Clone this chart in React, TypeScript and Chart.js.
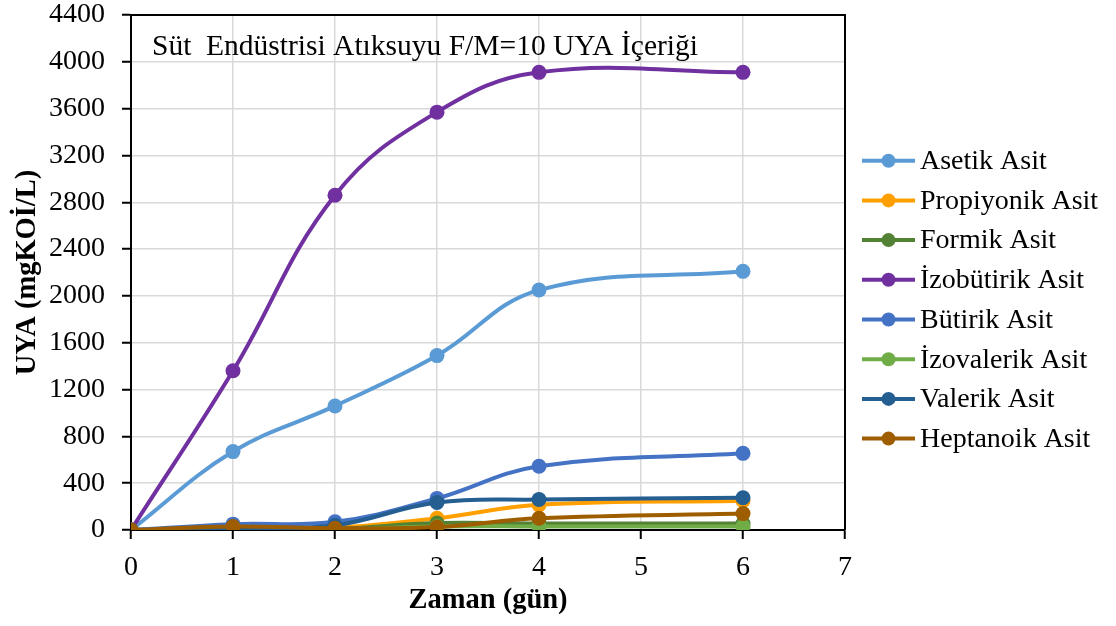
import { useEffect, useRef } from "react";
import { Chart, registerables } from "chart.js";

Chart.register(...registerables);

// Sampling days and measured volatile fatty acid concentrations (mgKOİ/L)
const days = [0, 1, 2, 3, 4, 6];
const asetik = [0, 670, 1060, 1490, 2050, 2210];
const propiyonik = [0, 20, 20, 100, 215, 250];
const formik = [0, 10, 10, 60, 55, 55];
const izobutirik = [0, 1360, 2860, 3570, 3910, 3910];
const butirik = [0, 50, 70, 270, 545, 655];
const izovalerik = [0, 0, 0, 30, 30, 30];
const valerik = [0, 0, 40, 235, 260, 275];
const heptanoik = [0, 30, 15, 25, 100, 140];

const seriesNames = [
  "Asetik Asit",
  "Propiyonik Asit",
  "Formik Asit",
  "İzobütirik Asit",
  "Bütirik Asit",
  "İzovalerik Asit",
  "Valerik Asit",
  "Heptanoik Asit",
];
const seriesValues = [asetik, propiyonik, formik, izobutirik, butirik, izovalerik, valerik, heptanoik];
const seriesColors = [
  "#5B9BD5",
  "#FFA000",
  "#548235",
  "#7030A0",
  "#4472C4",
  "#70AD47",
  "#255E91",
  "#9E5E00",
];

const chartTitle = "Süt  Endüstrisi Atıksuyu F/M=10 UYA İçeriği";
const xAxisTitle = "Zaman (gün)";
const yAxisTitle = "UYA (mgKOİ/L)";
const xMin = 0;
const xMax = 7;
const yMin = 0;
const yMax = 4400;
const yStep = 400;

const SERIF = "'Liberation Serif', 'Times New Roman', serif";

// Frame on the top and right sides of the plot area
const framePlugin = {
  id: "plotFrame",
  beforeDatasetsDraw(chart: any) {
    const { ctx, chartArea } = chart;
    ctx.save();
    ctx.strokeStyle = "#000";
    ctx.lineWidth = 2;
    ctx.beginPath();
    ctx.moveTo(chartArea.left, chartArea.top);
    ctx.lineTo(chartArea.right, chartArea.top);
    ctx.lineTo(chartArea.right, chartArea.bottom);
    ctx.stroke();
    ctx.restore();
  },
};

// Title inside the plot area plus a line-and-marker legend on the right
const annotationPlugin = {
  id: "titleAndLegend",
  afterDraw(chart: any) {
    const { ctx, chartArea } = chart;
    ctx.save();
    ctx.fillStyle = "#000";
    ctx.font = `29.5px ${SERIF}`;
    ctx.textAlign = "left";
    ctx.textBaseline = "alphabetic";
    ctx.fillText(chartTitle, chartArea.left + 21, 55);

    const lineX0 = chartArea.right + 17;
    const lineX1 = chartArea.right + 70;
    const textX = chartArea.right + 75;
    const rowTop = 160.7;
    const rowStep = 39.7;
    ctx.font = `28px ${SERIF}`;
    ctx.textBaseline = "middle";
    seriesNames.forEach((name, i) => {
      const y = rowTop + i * rowStep;
      ctx.strokeStyle = seriesColors[i];
      ctx.lineWidth = 4;
      ctx.beginPath();
      ctx.moveTo(lineX0, y);
      ctx.lineTo(lineX1, y);
      ctx.stroke();
      ctx.fillStyle = seriesColors[i];
      ctx.beginPath();
      ctx.arc((lineX0 + lineX1) / 2, y, 7, 0, Math.PI * 2);
      ctx.fill();
      ctx.fillStyle = "#000";
      ctx.fillText(name, textX, y + 1);
    });
    ctx.restore();
  },
};

export default function App() {
  const canvasRef = useRef<HTMLCanvasElement | null>(null);

  useEffect(() => {
    const canvas = canvasRef.current;
    if (!canvas) return;

    const datasets = seriesNames.map((name, i) => ({
      label: name,
      data: days.map((d, j) => ({ x: d, y: seriesValues[i][j] })),
      borderColor: seriesColors[i],
      backgroundColor: seriesColors[i],
      pointBackgroundColor: seriesColors[i],
      pointBorderColor: seriesColors[i],
      pointRadius: 7.5,
      pointBorderWidth: 0,
      borderWidth: 4,
      tension: 0.4,
      fill: false,
      order: seriesNames.length - 1 - i,
    }));

    const chart = new Chart(canvas, {
      type: "line",
      data: { datasets },
      plugins: [framePlugin, annotationPlugin],
      options: {
        responsive: false,
        animation: false,
        devicePixelRatio: 1,
        layout: { padding: { top: 15, right: 271, left: 0, bottom: 0 } },
        plugins: {
          legend: { display: false },
          tooltip: { enabled: false },
          title: { display: false },
        },
        scales: {
          x: {
            type: "linear",
            min: xMin,
            max: xMax,
            afterFit(scale: any) {
              scale.height = 96;
              scale.paddingLeft = 0;
              scale.paddingRight = 0;
            },
            ticks: {
              stepSize: 1,
              color: "#000",
              padding: 12,
              font: { family: SERIF, size: 28 },
            },
            grid: {
              color: "#D9D9D9",
              lineWidth: 1.5,
              tickColor: "#000",
              tickLength: 9,
              tickWidth: 2,
            },
            border: { display: true, color: "#000", width: 2 },
            title: {
              display: true,
              text: xAxisTitle,
              color: "#000",
              padding: { top: 0, bottom: 8 },
              font: { family: SERIF, size: 28.5, weight: "bold", lineHeight: 1.2 },
            },
          },
          y: {
            min: yMin,
            max: yMax,
            afterFit(scale: any) {
              scale.width = 131;
              scale.paddingTop = 0;
              scale.paddingBottom = 0;
            },
            ticks: {
              stepSize: yStep,
              color: "#000",
              padding: 17,
              font: { family: SERIF, size: 28 },
              callback: (v: any) => String(v),
            },
            grid: {
              color: "#D9D9D9",
              lineWidth: 1.5,
              tickColor: "#000",
              tickLength: 9,
              tickWidth: 2,
            },
            border: { display: true, color: "#000", width: 2 },
            title: {
              display: true,
              text: yAxisTitle,
              color: "#000",
              padding: { top: 11, bottom: 0 },
              font: { family: SERIF, size: 28.5, weight: "bold", lineHeight: 1.2 },
            },
          },
        },
      },
    } as any);

    return () => chart.destroy();
  }, []);

  return (
    <div style={{ position: "absolute", left: 0, top: 0, width: 1116, height: 626, background: "#fff" }}>
      <canvas ref={canvasRef} width={1116} height={626} style={{ display: "block" }} />
    </div>
  );
}
